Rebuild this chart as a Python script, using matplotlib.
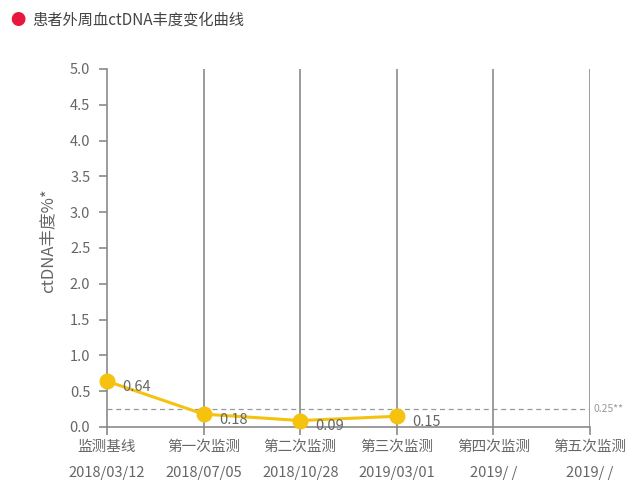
import matplotlib
matplotlib.use("Agg")
import matplotlib.pyplot as plt

plt.rcParams['font.family'] = ['Noto Sans CJK SC', 'DejaVu Sans']

categories = ["监测基线", "第一次监测", "第二次监测", "第三次监测", "第四次监测", "第五次监测"]
dates = ["2018/03/12", "2018/07/05", "2018/10/28", "2019/03/01", "2019/ /", "2019/ /"]
values = [0.64, 0.18, 0.09, 0.15]
value_labels = ["0.64", "0.18", "0.09", "0.15"]
threshold = 0.25
threshold_label = "0.25**"
yticks = [0.0, 0.5, 1.0, 1.5, 2.0, 2.5, 3.0, 3.5, 4.0, 4.5, 5.0]
title = "患者外周血ctDNA丰度变化曲线"
ylabel = "ctDNA丰度%*"

gray = "#8a8a8a"
text_gray = "#666666"
gold = "#F5C20F"

fig = plt.figure(figsize=(6.4, 4.87), dpi=100)
ax = fig.add_axes([107/640, 1-427/487, (590-107)/640, (427-69)/487])

n = len(categories)
xs = list(range(n))
ax.set_xlim(0, n-1)
ax.set_ylim(0, 5.0)

for x in xs[1:]:
    ax.axvline(x, color=gray, lw=1.2, zorder=1)

ax.axhline(threshold, color="#999999", lw=0.9, ls=(0, (4, 3)), zorder=1)
ax.text(n-1 + 0.04, threshold, threshold_label, color="#999999", fontsize=7.5,
        va="center", ha="left", clip_on=False)

ax.plot(xs[:len(values)], values, color=gold, lw=2.2, marker="o", ms=10.5,
        markerfacecolor=gold, markeredgecolor=gold, zorder=3, clip_on=False)
for x, v, lab in zip(xs, values, value_labels):
    ax.annotate(lab, (x, v), xytext=(11, -4), textcoords="offset points",
                fontsize=10.5, color=text_gray, va="center", ha="left", zorder=4)

for s in ["top", "right"]:
    ax.spines[s].set_visible(False)
for s in ["left", "bottom"]:
    ax.spines[s].set_color(gray)
    ax.spines[s].set_linewidth(1.2)

ax.set_yticks(yticks)
ax.set_yticklabels([f"{t:.1f}" for t in yticks])
ax.set_xticks(xs)
ax.set_xticklabels([f"{c}\n\n{d}" for c, d in zip(categories, dates)], linespacing=0.95)
ax.tick_params(axis="both", colors=gray, labelcolor=text_gray, labelsize=10.5,
               length=6, width=1.2)
ax.tick_params(axis="x", pad=3)
ax.tick_params(axis="y", pad=6)

ax.set_ylabel(ylabel, fontsize=12, color=text_gray)
ax.yaxis.set_label_coords(-0.105, 0.52)

fig.text(18/640, 1-20/487, "●", color="#E8173C", fontsize=11, va="center", ha="center")
fig.text(32/640, 1-20/487, title, color="#444444", fontsize=11, va="center", ha="left")

fig.savefig("out.png", dpi=100)
